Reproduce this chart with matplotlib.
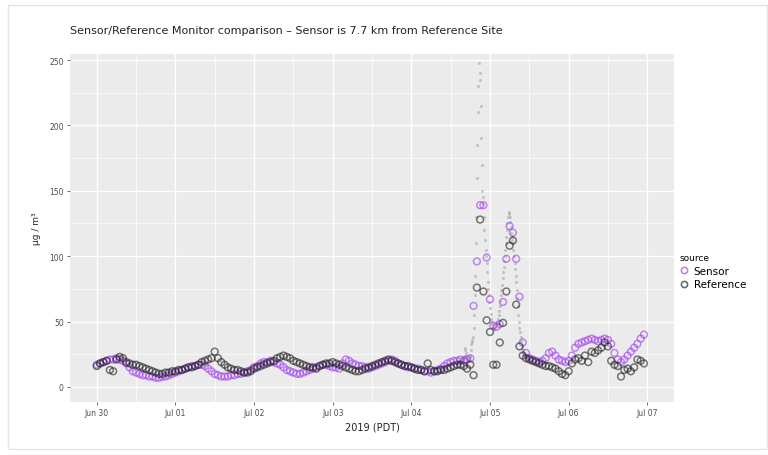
import numpy as np
import pandas as pd
import matplotlib
matplotlib.use("Agg")
import matplotlib.pyplot as plt
import matplotlib.dates as mdates
from matplotlib.patches import Rectangle
from matplotlib.lines import Line2D

# Hourly PM2.5 (µg/m³), starting 2019-06-30 00:00 PDT
sensor = [
    # Jun 30
    17, 18, 19, 20, 21, 21, 22, 21, 20, 18, 15, 12, 11, 10, 9, 9, 8, 8, 7, 7, 8, 8, 9, 10,
    # Jul 01
    11, 12, 13, 14, 15, 16, 16, 17, 17, 16, 14, 12, 10, 9, 8, 8, 8, 9, 9, 10, 10, 11, 12, 13,
    # Jul 02
    15, 16, 18, 19, 19, 20, 19, 18, 17, 15, 13, 12, 11, 10, 10, 11, 12, 13, 14, 15, 16, 17, 17, 16,
    # Jul 03
    15, 15, 14, 18, 21, 20, 18, 17, 16, 16, 15, 14, 15, 16, 17, 18, 19, 20, 21, 20, 18, 17, 16, 15,
    # Jul 04
    15, 14, 14, 13, 12, 12, 11, 12, 13, 14, 16, 18, 19, 20, 20, 21, 20, 21, 22, 62, 96, 139, 139, 99,
    # Jul 05
    67, 47, 46, 48, 65, 98, 123, 118, 98, 69, 34, 26, 22, 21, 20, 19, 20, 22, 26, 27, 24, 21, 20, 19,
    # Jul 06
    20, 24, 30, 33, 34, 35, 36, 37, 36, 35, 36, 37, 36, 33, 26, 21, 19, 21, 24, 27, 30, 33, 37, 40,
]

reference = [
    # Jun 30
    16, 18, 19, 20, 13, 12, 21, 23, 22, 19, 18, 17, 17, 16, 15, 14, 13, 12, 11, 10, 10, 11, 11, 12,
    # Jul 01
    12, 13, 13, 14, 15, 15, 16, 17, 19, 20, 21, 22, 27, 22, 19, 17, 15, 14, 13, 13, 12, 11, 11, 12,
    # Jul 02
    14, 15, 16, 17, 18, 19, 20, 22, 23, 24, 23, 22, 20, 19, 18, 17, 16, 15, 15, 14, 16, 17, 18, 18,
    # Jul 03
    19, 18, 17, 16, 15, 14, 13, 12, 12, 13, 14, 15, 16, 17, 18, 19, 20, 21, 20, 19, 18, 17, 16, 16,
    # Jul 04
    15, 14, 13, 13, 12, 18, 13, 12, 12, 13, 13, 14, 15, 16, 17, 17, 16, 14, 17, 9, 76, 128, 73, 51,
    # Jul 05
    42, 17, 17, 34, 49, 73, 108, 112, 63, 31, 24, 22, 21, 20, 19, 18, 17, 16, 16, 15, 14, 12, 10, 9,
    # Jul 06
    12, 18, 21, 22, 20, 24, 19, 27, 26, 28, 30, 34, 31, 20, 17, 16, 8, 13, 14, 12, 15, 21, 20, 18,
]

# Raw (10-minute) sensor readings around the Jul 04–05 smoke event,
# starting 2019-07-04 14:00 PDT
raw_sensor = [
    18, 18, 19, 19, 20, 20,
    19, 20, 21, 22, 21, 22,
    22, 24, 28, 30, 26, 24,
    21, 20, 21, 20, 22, 23,
    24, 28, 33, 36, 34, 38,
    45, 55, 70, 85, 110, 130,
    160, 185, 210, 230, 248, 240,
    235, 215, 190, 170, 150, 145,
    140, 130, 120, 112, 105, 100,
    95, 88, 80, 75, 70, 65,
    60, 56, 52, 50, 48, 46,
    45, 44, 44, 45, 47, 48,
    50, 49, 48, 52, 55, 58,
    62, 66, 70, 74, 78, 83,
    88, 92, 96, 100, 105, 110,
    115, 120, 125, 130, 134, 132,
    130, 126, 122, 118, 115, 112,
    110, 105, 100, 95, 90, 85,
    80, 74, 68, 62, 55, 50,
    45, 42, 38, 35, 32, 30,
    28, 27, 26, 25, 24, 24,
    23, 23, 22, 22, 22, 21,
]

series_labels = ["Sensor", "Reference"]
title_text = "Sensor/Reference Monitor comparison \u2013 Sensor is 7.7 km from Reference Site"

hourly_time = pd.date_range("2019-06-30 00:00", periods=len(sensor), freq="h")
raw_time = pd.date_range("2019-07-04 14:00", periods=len(raw_sensor), freq="10min")

W, H = 768, 456
fig = plt.figure(figsize=(W / 100, H / 100), dpi=100)
fig.patch.set_facecolor("white")

# faint frame around the whole graphic
fig.add_artist(Rectangle((8 / W, 6 / H), (W - 9) / W, (H - 12) / H,
                         transform=fig.transFigure, fill=False,
                         edgecolor="#e4e4e4", linewidth=1.0))

ax = fig.add_axes([70 / W, 1 - 403 / H, (674 - 70) / W, (403 - 55) / H])
ax.set_facecolor("#EBEBEB")
for s in ax.spines.values():
    s.set_visible(False)

purple = "#A040F0"

ax.scatter(raw_time, raw_sensor, s=5, color="#9a9a9a", alpha=0.5,
           linewidths=0, zorder=2)
ax.scatter(hourly_time, sensor, s=24, facecolors="none", edgecolors=purple,
           linewidths=1.1, alpha=0.6, zorder=3)
ax.scatter(hourly_time, reference, s=24, facecolors="none", edgecolors="#222222",
           linewidths=1.1, alpha=0.6, zorder=4)

ax.set_ylim(-11.5, 254.6)
ax.set_xlim(pd.Timestamp("2019-06-29 15:50"), pd.Timestamp("2019-07-07 08:10"))

ax.yaxis.set_major_locator(plt.MultipleLocator(50))
ax.yaxis.set_minor_locator(plt.MultipleLocator(25))
ax.xaxis.set_major_locator(mdates.DayLocator())
ax.xaxis.set_minor_locator(mdates.HourLocator(byhour=[12]))
ax.xaxis.set_major_formatter(mdates.DateFormatter("%b %d"))

ax.grid(which="major", color="white", linewidth=1.0)
ax.grid(which="minor", color="white", linewidth=0.5)
ax.set_axisbelow(True)

ax.tick_params(which="major", length=2.5, width=0.6, color="#555555",
               labelsize=5.5, labelcolor="#4D4D4D", pad=2)
ax.tick_params(which="minor", length=0)

ax.set_xlabel("2019 (PDT)", fontsize=7, color="#222222", labelpad=3)
ax.set_ylabel("\u00b5g / m\u00b3", fontsize=6.5, color="#222222", labelpad=6)

fig.text(70 / W, 1 - 31 / H, title_text, fontsize=8, color="#222222",
         ha="left", va="center")

# legend
handles = [
    Line2D([], [], linestyle="none", marker="o", markersize=4.5,
           markerfacecolor="none", markeredgecolor=purple, alpha=0.7,
           markeredgewidth=1.1),
    Line2D([], [], linestyle="none", marker="o", markersize=4.5,
           markerfacecolor="none", markeredgecolor="#222222", alpha=0.7,
           markeredgewidth=1.1),
]
leg = fig.legend(handles, series_labels, title="source",
                 loc="upper left", bbox_to_anchor=(680 / W, 1 - 254 / H),
                 frameon=False, fontsize=7.5, title_fontsize=6.5,
                 handlelength=0.8, handletextpad=0.5, labelspacing=0.35,
                 borderaxespad=0, borderpad=0)
leg._legend_box.align = "left"

fig.savefig("out.png", dpi=100)
